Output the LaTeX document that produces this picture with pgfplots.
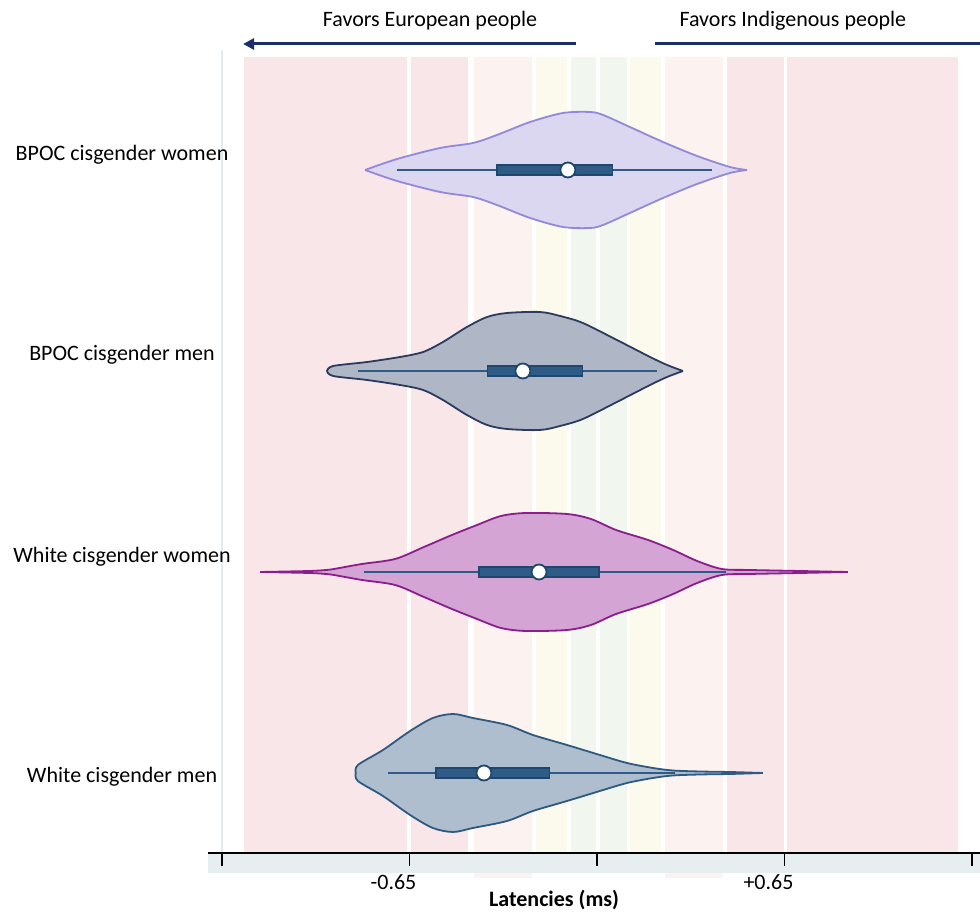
\documentclass[border=0pt]{standalone}
\usepackage{fontspec}
\setmainfont{Carlito}
\usepackage{pgfplots}
\pgfplotsset{compat=1.18}
\usepackage{pgfplotstable}
\usepgfplotslibrary{fillbetween}
\usetikzlibrary{arrows.meta}
\newcommand\f{\fontsize{22}{26}\selectfont}
\definecolor{bred}{HTML}{F8E6E8}
\definecolor{bpink}{HTML}{FCF3F1}
\definecolor{byel}{HTML}{FCFAEC}
\definecolor{bgreen}{HTML}{F1F7EF}
\definecolor{gline}{HTML}{E2ECEF}
\definecolor{strip}{HTML}{E6EEF0}
\definecolor{navy}{HTML}{1B2E6A}
\definecolor{vAf}{HTML}{DBD7F0}\definecolor{vAs}{HTML}{9488D8}
\definecolor{vBf}{HTML}{AFB7C7}\definecolor{vBs}{HTML}{2B3A5E}
\definecolor{vCf}{HTML}{D4A4D4}\definecolor{vCs}{HTML}{8B1D8D}
\definecolor{vDf}{HTML}{AEBECE}\definecolor{vDs}{HTML}{2E5A82}
\definecolor{boxf}{HTML}{2F5C86}\definecolor{boxs}{HTML}{1F466C}

% violin half-widths (x = latency, h = half height in pt)
\pgfplotstableread{
x h
-0.804 0
-0.693 11
-0.544 22
-0.430 27
-0.347 35
-0.232 48
-0.118 57
-0.024 58
0.021 55
0.114 43
0.229 28
0.347 14
0.461 3
0.520 0
}\vA
\pgfplotstableread{
x h
-0.936 0
-0.915 5
-0.797 9
-0.683 14
-0.603 19
-0.534 29
-0.451 44
-0.381 54
-0.312 58
-0.198 59
-0.128 55
-0.049 48
0.069 31
0.184 14
0.243 6
0.298 0
}\vB
\pgfplotstableread{
x h
-1.168 0
-0.998 1
-0.939 2
-0.912 3
-0.815 8
-0.700 13
-0.600 25
-0.503 37
-0.416 47
-0.333 56
-0.246 59
-0.104 58
-0.021 53
0.066 42
0.177 32
0.264 22
0.347 11
0.433 3
0.530 2
0.704 1
0.870 0
}\vC
\pgfplotstableread{
x h
-0.836 0
-0.829 8
-0.742 23
-0.648 42
-0.569 55
-0.499 59
-0.430 55
-0.312 48
-0.222 38
-0.104 28
0.010 18
0.104 10
0.194 5
0.263 2.5
0.357 1.5
0.461 1
0.575 0
}\vD

\begin{document}
\begin{tikzpicture}
\begin{axis}[
  set layers, axis on top,
  scale only axis, width=772pt, height=796pt,
  xmin=-1.3485, xmax=1.3277, ymin=57, ymax=853, y dir=reverse,
  clip=false,
  axis x line*=bottom, axis y line*=left,
  y axis line style={draw=none},
  x axis line style={line width=1.6pt, black},
  xtick={-1.3,-0.65,0,0.65,1.3},
  xticklabels={,-0.65,,+0.65,},
  xtick style={line width=1.6pt, black},
  tick align=outside, major tick length=13pt,
  ytick={155,355,557,777},
  yticklabels={BPOC cisgender women,BPOC cisgender men,White cisgender women,White cisgender men},
  ytick style={draw=none},
  ticklabel style={font=\f},
  yticklabel style={anchor=center, xshift=-73pt},
  xticklabel style={xshift=-16pt, yshift=-5pt},
  /pgf/number format/assume math mode=true,
  xlabel={\bfseries Latencies (ms)},
  xlabel style={at={(axis cs:-0.149,900)}, anchor=center, font=\f},
]
% background bands
\addplot[draw=none, fill=bpink, on layer=axis background] coordinates {(-0.4264,57) (-0.2253,57) (-0.2253,878) (-0.4264,878)} --cycle;
\addplot[draw=none, fill=bpink, on layer=axis background] coordinates {(0.2357,57) (0.4368,57) (0.4368,878) (0.2357,878)} --cycle;
\addplot[draw=none, fill=bred, on layer=axis background] coordinates {(-1.2237,57) (-0.6587,57) (-0.6587,853) (-1.2237,853)} --cycle;
\addplot[draw=none, fill=bred, on layer=axis background] coordinates {(-0.6448,57) (-0.4472,57) (-0.4472,853) (-0.6448,853)} --cycle;
\addplot[draw=none, fill=byel, on layer=axis background] coordinates {(-0.2115,57) (-0.1040,57) (-0.1040,853) (-0.2115,853)} --cycle;
\addplot[draw=none, fill=bgreen, on layer=axis background] coordinates {(-0.0901,57) (-0.0035,57) (-0.0035,853) (-0.0901,853)} --cycle;
\addplot[draw=none, fill=bgreen, on layer=axis background] coordinates {(0.0104,57) (0.1040,57) (0.1040,853) (0.0104,853)} --cycle;
\addplot[draw=none, fill=byel, on layer=axis background] coordinates {(0.1144,57) (0.2219,57) (0.2219,853) (0.1144,853)} --cycle;
\addplot[draw=none, fill=bred, on layer=axis background] coordinates {(0.4507,57) (0.6483,57) (0.6483,853) (0.4507,853)} --cycle;
\addplot[draw=none, fill=bred, on layer=axis background] coordinates {(0.6587,57) (1.2515,57) (1.2515,853) (0.6587,853)} --cycle;
\addplot[draw=gline, line width=2pt, on layer=axis background] coordinates {(-1.3,50) (-1.3,853)};
\addplot[draw=none, fill=strip, on layer=axis background] coordinates {(-1.3485,853) (1.3277,853) (1.3277,873) (-1.3485,873)} --cycle;

% violins
\addplot[smooth, draw=vAs, line width=1.8pt, name path=tA] table[x=x, y expr=170-\thisrow{h}] {\vA};
\addplot[smooth, draw=vAs, line width=1.8pt, name path=bA] table[x=x, y expr=170+\thisrow{h}] {\vA};
\addplot[fill=vAf] fill between[of=tA and bA];
\addplot[smooth, draw=vBs, line width=1.8pt, name path=tB] table[x=x, y expr=371-\thisrow{h}] {\vB};
\addplot[smooth, draw=vBs, line width=1.8pt, name path=bB] table[x=x, y expr=371+\thisrow{h}] {\vB};
\addplot[fill=vBf] fill between[of=tB and bB];
\addplot[smooth, draw=vCs, line width=1.8pt, name path=tC] table[x=x, y expr=572-\thisrow{h}] {\vC};
\addplot[smooth, draw=vCs, line width=1.8pt, name path=bC] table[x=x, y expr=572+\thisrow{h}] {\vC};
\addplot[fill=vCf] fill between[of=tC and bC];
\addplot[smooth, draw=vDs, line width=1.8pt, name path=tD] table[x=x, y expr=773-\thisrow{h}] {\vD};
\addplot[smooth, draw=vDs, line width=1.8pt, name path=bD] table[x=x, y expr=773+\thisrow{h}] {\vD};
\addplot[fill=vDf] fill between[of=tD and bD];

% box plots: whiskers, IQR boxes, medians
\addplot[draw=boxf, line width=2pt] coordinates {(-0.693,170) (0.399,170)};
\addplot[draw=boxs, fill=boxf, line width=1.2pt] coordinates {(-0.347,165) (0.055,165) (0.055,175) (-0.347,175)} --cycle;
\addplot[only marks, mark=*, mark size=7.5pt, mark options={fill=white, draw=boxs, line width=1.8pt}] coordinates {(-0.101,170)};

\addplot[draw=boxf, line width=2pt] coordinates {(-0.829,371) (0.208,371)};
\addplot[draw=boxs, fill=boxf, line width=1.2pt] coordinates {(-0.381,366) (-0.049,366) (-0.049,376) (-0.381,376)} --cycle;
\addplot[only marks, mark=*, mark size=7.5pt, mark options={fill=white, draw=boxs, line width=1.8pt}] coordinates {(-0.257,371)};

\addplot[draw=boxf, line width=2pt] coordinates {(-0.808,572) (0.447,572)};
\addplot[draw=boxs, fill=boxf, line width=1.2pt] coordinates {(-0.409,567) (0.007,567) (0.007,577) (-0.409,577)} --cycle;
\addplot[only marks, mark=*, mark size=7.5pt, mark options={fill=white, draw=boxs, line width=1.8pt}] coordinates {(-0.201,572)};

\addplot[draw=boxf, line width=2pt] coordinates {(-0.725,773) (0.270,773)};
\addplot[draw=boxs, fill=boxf, line width=1.2pt] coordinates {(-0.558,768) (-0.166,768) (-0.166,778) (-0.558,778)} --cycle;
\addplot[only marks, mark=*, mark size=7.5pt, mark options={fill=white, draw=boxs, line width=1.8pt}] coordinates {(-0.392,773)};

% direction arrows and captions
\draw[navy, line width=3pt, -{Triangle[length=11pt,width=11pt]}] (axis cs:-0.0728,44) -- (axis cs:-1.227,44);
\draw[navy, line width=3pt] (axis cs:0.201,44) -- (axis cs:1.36,44);
\node[font=\f] at (axis cs:-0.579,21) {Favors European people};
\node[font=\f] at (axis cs:0.679,21) {Favors Indigenous people};

\coordinate (bbA) at (axis cs:-2.0696,0);
\coordinate (bbB) at (axis cs:1.3277,913);
\end{axis}
\pgfresetboundingbox
\path[use as bounding box] (bbA) rectangle (bbB);
\end{tikzpicture}
\end{document}
